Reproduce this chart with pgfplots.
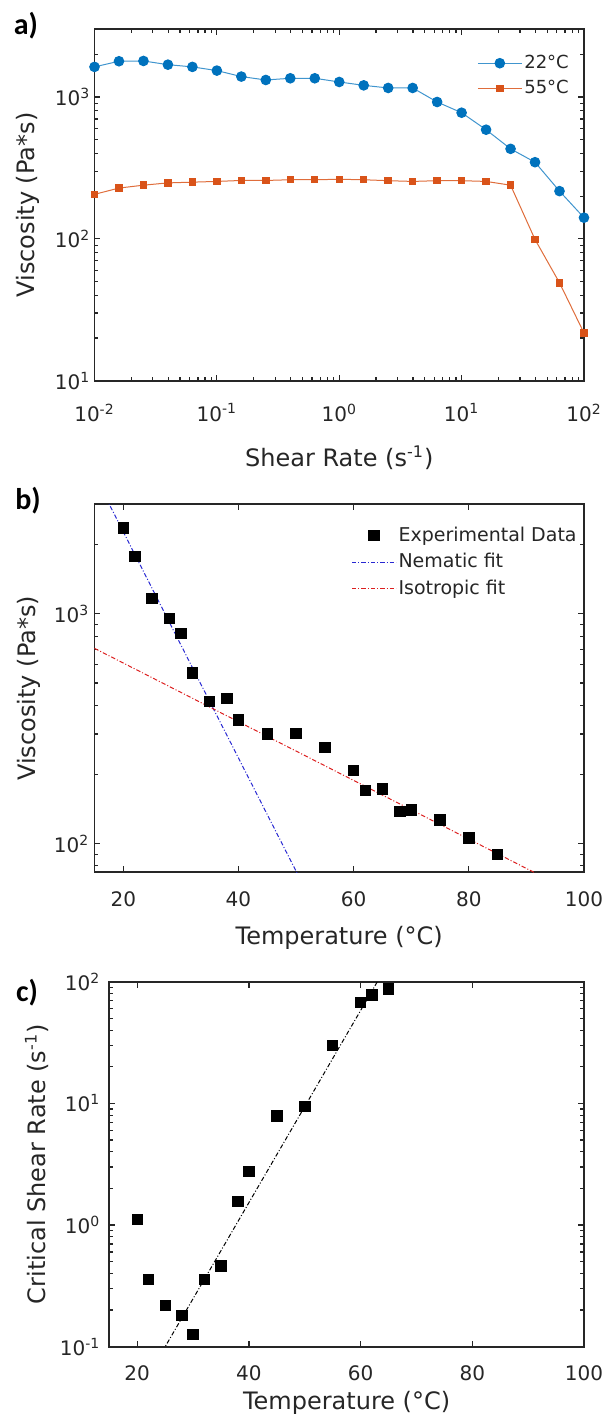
\documentclass[border=0pt]{standalone}
\usepackage{fontspec}
\setmainfont{DejaVu Sans}
\newfontfamily\panelfont{Carlito}
\usepackage{pgfplots}
\pgfplotsset{compat=1.18}

\definecolor{mblue}{RGB}{0,114,189}
\definecolor{morange}{RGB}{217,83,25}
\definecolor{axgray}{RGB}{38,38,38}
\definecolor{nemblue}{RGB}{40,40,210}
\definecolor{isored}{RGB}{220,30,30}

\pgfplotsset{
  mataxis/.style={
    scale only axis, anchor=south west,
    axis line style={axgray, line width=0.9pt},
    tick style={axgray, line width=0.6pt},
    major tick length=3pt, minor tick length=1.8pt,
    tick align=inside,
    ticklabel style={font=\fontsize{10}{12}\selectfont, text=axgray},
    label style={font=\fontsize{12}{14}\selectfont, text=axgray},
    /pgf/number format/assume math mode=true,
    legend image code/.code={\draw[mark repeat=2,mark phase=2,#1] plot coordinates {(0pt,0pt) (11pt,0pt) (22pt,0pt)};},
  },
  dd/.style={dash pattern=on 2.2pt off 1pt on 0.5pt off 1pt},
}

\begin{document}
\begin{tikzpicture}
\useasboundingbox (0,0) rectangle (302pt,-710.5pt);

% a) viscosity vs shear rate
\begin{axis}[mataxis,
  at={(47.25pt,-190.35pt)}, width=244.75pt, height=175.7pt,
  xmode=log, ymode=log, log basis x=10, log basis y=10,
  xmin=0.01, xmax=100, ymin=10, ymax=3000,
  xtick={0.01,0.1,1,10,100},
  minor xtick={0.02,0.03,0.04,0.05,0.06,0.07,0.08,0.09,0.2,0.3,0.4,0.5,0.6,0.7,0.8,0.9,2,3,4,5,6,7,8,9,20,30,40,50,60,70,80,90},
  xticklabels={10\textsuperscript{-2},10\textsuperscript{-1},10\textsuperscript{0},10\textsuperscript{1},10\textsuperscript{2}},
  ytick={10,100,1000},
  minor ytick={20,30,40,50,60,70,80,90,200,300,400,500,600,700,800,900,2000,3000},
  yticklabels={10\textsuperscript{1},10\textsuperscript{2},10\textsuperscript{3}},
  xticklabel style={yshift=-8pt},
  yticklabel style={xshift=1.4pt},
  xlabel={Shear Rate (s\textsuperscript{-1})},
  ylabel={Viscosity (Pa*s)},
  xlabel style={at={(axis description cs:0.5,-0.243)}, anchor=base},
  ylabel style={at={(axis description cs:-0.136,0.5)}, anchor=center},
  legend style={draw=none, fill=none, at={(0.769,0.945)}, anchor=north west,
    font=\fontsize{9}{11}\selectfont, nodes={inner sep=1pt, text=axgray}, row sep=2.5pt},
  legend cell align=left,
]
\addplot[mblue!75, line width=0.5pt, mark=*, mark size=2.4pt, mark options={solid, fill=mblue, draw=mblue}] coordinates {
(0.01,1630) (0.015849,1787) (0.025119,1795) (0.039811,1690) (0.063096,1630)
(0.1,1535) (0.15849,1393) (0.25119,1318) (0.39811,1355) (0.63096,1355)
(1,1276) (1.5849,1208) (2.5119,1158) (3.9811,1158) (6.3096,922)
(10,775) (15.849,588) (25.119,431) (39.811,347) (63.096,217) (100,141)
};
\addlegendentry{22°C}
\addplot[morange!85, line width=0.5pt, mark=square*, mark size=1.6pt, mark options={solid, fill=morange, draw=morange}] coordinates {
(0.01,206) (0.015849,228) (0.025119,239) (0.039811,248) (0.063096,251)
(0.1,254) (0.15849,258) (0.25119,258) (0.39811,261) (0.63096,261)
(1,263) (1.5849,261) (2.5119,257) (3.9811,254) (6.3096,257)
(10,257) (15.849,254) (25.119,239) (39.811,99) (63.096,49) (100,21.7)
};
\addlegendentry{55°C}
\end{axis}

% b) viscosity vs temperature
\begin{axis}[mataxis,
  at={(47.25pt,-436.15pt)}, width=244.75pt, height=184pt,
  ymode=log, log basis y=10,
  xmin=15, xmax=100, ymin=75, ymax=3000,
  xtick={20,40,60,80,100},
  ytick={100,1000},
  minor ytick={80,90,200,300,400,500,600,700,800,900,2000,3000},
  yticklabels={10\textsuperscript{2},10\textsuperscript{3}},
  xticklabel style={yshift=-6.2pt},
  yticklabel style={xshift=0.9pt},
  xlabel={Temperature (°C)},
  ylabel={Viscosity (Pa*s)},
  xlabel style={at={(axis description cs:0.5,-0.195)}, anchor=base},
  ylabel style={at={(axis description cs:-0.134,0.5)}, anchor=center},
  legend style={draw=none, fill=none, at={(0.512,0.956)}, anchor=north west,
    font=\fontsize{9.5}{11.5}\selectfont, nodes={inner sep=1pt, text=axgray}, row sep=2.5pt},
  legend cell align=left,
]
\addplot[only marks, mark=square*, mark size=2.6pt, black] coordinates {
(20,2370) (22,1782) (25,1170) (28,957) (30,823) (32,553) (35,415) (38,429)
(40,345) (45,300) (50,301) (55,262) (60,208) (62,170) (65,173) (68,138)
(70,140) (75,127) (80,106) (85,90)
};
\addlegendentry{Experimental Data}
\addplot[nemblue, line width=0.5pt, dd] coordinates {(17,3200) (50.5,71.7)};
\addlegendentry{Nematic fit}
\addplot[isored, line width=0.5pt, dd] coordinates {(15,708) (92,73.5)};
\addlegendentry{Isotropic fit}
\end{axis}

% c) critical shear rate vs temperature
\begin{axis}[mataxis,
  at={(54.65pt,-673.35pt)}, width=237.35pt, height=182.5pt,
  ymode=log, log basis y=10,
  xmin=15, xmax=100, ymin=0.1, ymax=100,
  xtick={20,40,60,80,100},
  ytick={0.1,1,10,100},
  minor ytick={0.2,0.3,0.4,0.5,0.6,0.7,0.8,0.9,2,3,4,5,6,7,8,9,20,30,40,50,60,70,80,90},
  yticklabels={10\textsuperscript{-1},10\textsuperscript{0},10\textsuperscript{1},10\textsuperscript{2}},
  xticklabel style={yshift=-6pt},
  yticklabel style={xshift=-1pt},
  xlabel={Temperature (°C)},
  ylabel={Critical Shear Rate (s\textsuperscript{-1})},
  xlabel style={at={(axis description cs:0.5,-0.171)}, anchor=base},
  ylabel style={at={(axis description cs:-0.153,0.5)}, anchor=center},
]
\addplot[only marks, mark=square*, mark size=2.6pt, black] coordinates {
(20,1.11) (22,0.357) (25,0.219) (28,0.181) (30,0.126) (32,0.357) (35,0.463)
(38,1.56) (40,2.76) (45,7.9) (50,9.4) (55,30.1) (60,68) (62,77.7) (65,87)
};
\addplot[black, line width=0.5pt, dd] coordinates {(24.5,0.0913) (63.5,109.6)};
\end{axis}

\node[font=\panelfont\bfseries\fontsize{15}{18}\selectfont] at (13pt,-13pt) {a)};
\node[font=\panelfont\bfseries\fontsize{15}{18}\selectfont] at (14pt,-250.5pt) {b)};
\node[font=\panelfont\bfseries\fontsize{15}{18}\selectfont] at (13.5pt,-496.5pt) {c)};
\end{tikzpicture}
\end{document}
